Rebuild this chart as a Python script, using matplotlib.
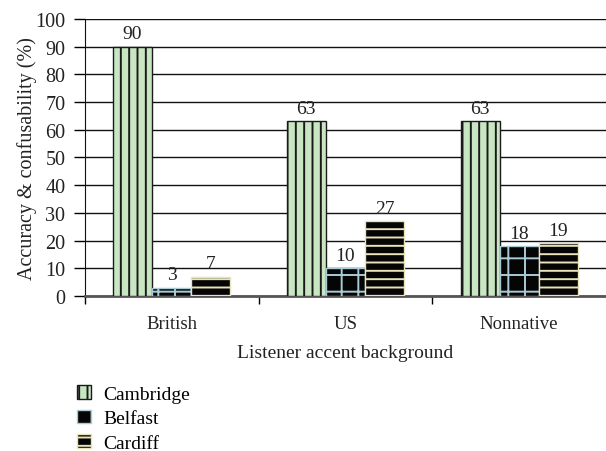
import matplotlib.pyplot as plt
import numpy as np

plt.rcParams['font.family'] = ['Liberation Serif', 'DejaVu Serif']
plt.rcParams['hatch.linewidth'] = 1.4

groups = ['British', 'US', 'Nonnative']
series = ['Cambridge', 'Belfast', 'Cardiff']
cambridge = [90, 63, 63]
belfast = [3, 10, 18]
cardiff = [7, 27, 19]

values = [cambridge, belfast, cardiff]
faces = ['#c8e6c2', '#050505', '#050505']
edges = ['#1a1a1a', '#a9cbd6', '#e8e3b8']
hatches = ['||', '+', '--']

fig = plt.figure(figsize=(6.06, 4.52), dpi=100)
ax = fig.add_axes([0.140, 0.343, 0.860, 0.613])

x = np.arange(len(groups))
w = 0.225
for i, (vals, name) in enumerate(zip(values, series)):
    bars = ax.bar(x + (i - 1) * w, vals, w, color=faces[i], edgecolor=edges[i],
                  hatch=hatches[i], linewidth=1.0, label=name, zorder=3)
    ax.bar_label(bars, padding=3, fontsize=14, color='#222222')

ax.set_xlim(-0.5, 2.5)
ax.set_ylim(0, 100)
ax.set_yticks(range(0, 101, 10))
ax.tick_params(axis='y', labelsize=14.5, length=8, width=1, direction='out',
               pad=6, labelcolor='#222222')
ax.set_xticks(x)
ax.set_xticklabels(groups, fontsize=13.5, color='#222222')
ax.tick_params(axis='x', length=0, pad=14)
ax.set_xticks([-0.5, 0.5, 1.5], minor=True)
ax.tick_params(axis='x', which='minor', length=6, width=1, direction='out')
ax.yaxis.grid(True, color='#111111', linewidth=1.0, zorder=0)
ax.set_axisbelow(True)

for s in ['top', 'right']:
    ax.spines[s].set_visible(False)
ax.spines['left'].set_color('#111111')
ax.spines['bottom'].set_color('#555555')
ax.spines['bottom'].set_linewidth(2)

ax.set_ylabel('Accuracy & confusability (%)', fontsize=14.5, labelpad=-1.5, color='#222222')
ax.set_xlabel('Listener accent background', fontsize=14, labelpad=8, color='#222222')

fig.legend(loc='upper left', bbox_to_anchor=(0.127, 0.145), frameon=False,
           fontsize=14, handlelength=0.7, handleheight=0.7, handletextpad=0.65,
           labelspacing=0.35, borderaxespad=0, borderpad=0)

plt.savefig('out.png', dpi=100)
